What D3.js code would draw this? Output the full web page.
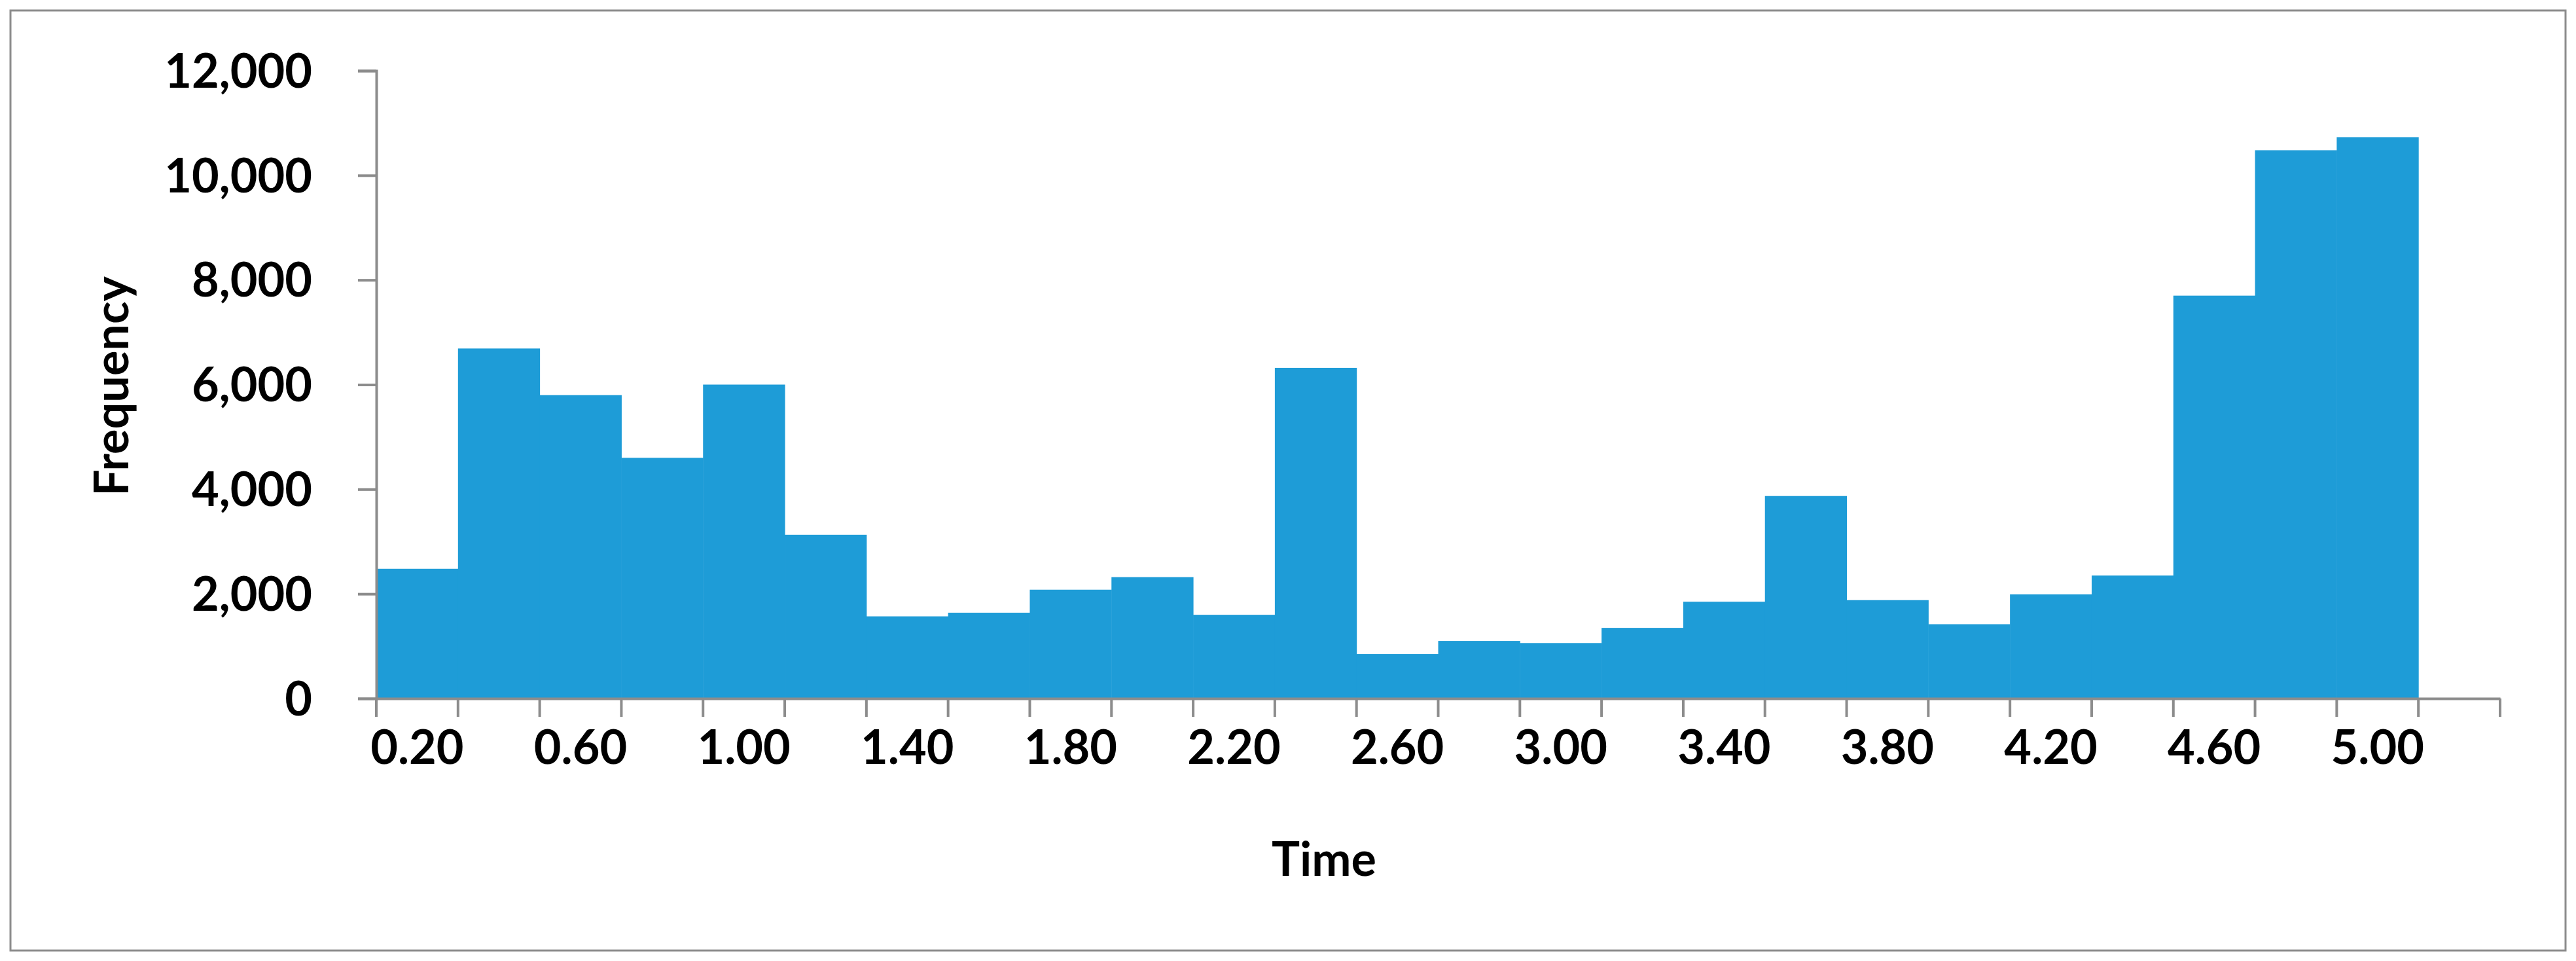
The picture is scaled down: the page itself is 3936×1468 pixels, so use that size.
<!DOCTYPE html>
<html><head><meta charset="utf-8">
<script src="https://cdn.jsdelivr.net/npm/d3@7"></script>
<style>body{margin:0;background:#fff}</style></head>
<body><svg id="c" width="3936" height="1468"></svg>
<script>
const categories = ["0.20","0.40","0.60","0.80","1.00","1.20","1.40","1.60","1.80","2.00","2.20","2.40","2.60","2.80","3.00","3.20","3.40","3.60","3.80","4.00","4.20","4.40","4.60","4.80","5.00","More"];
const frequency = [2480,6690,5800,4600,6000,3130,1570,1640,2080,2320,1600,6320,850,1100,1060,1350,1850,3870,1880,1420,1990,2350,7700,10480,10730,0];
const yTicks = [0,2000,4000,6000,8000,10000,12000];
const shownLabels = ["0.20","0.60","1.00","1.40","1.80","2.20","2.60","3.00","3.40","3.80","4.20","4.60","5.00"];

const svg = d3.select("#c");
const font = "Lato, 'Open Sans', sans-serif";
svg.append("rect").attr("x",16).attr("y",16).attr("width",3904).attr("height",1436)
  .attr("fill","#fff").attr("stroke","#8c8c8c").attr("stroke-width",3);

const L=575,R=3820,T=108,B=1067;
const x = d3.scaleBand().domain(categories).range([L,R]).padding(0);
const y = d3.scaleLinear().domain([0,12000]).range([B,T]);

svg.append("g").selectAll("rect").data(categories.map((c,i)=>({c,v:frequency[i]}))).join("rect")
  .attr("x",d=>x(d.c)).attr("width",x.bandwidth()+0.5)
  .attr("y",d=>y(d.v)).attr("height",d=>B-y(d.v)).attr("fill","#1e9cd7");

const ya = svg.append("g").attr("transform",`translate(${L},0)`)
  .call(d3.axisLeft(y).tickValues(yTicks).tickSize(28).tickPadding(70).tickFormat(d3.format(",")));
const xa = svg.append("g").attr("transform",`translate(0,${B})`)
  .call(d3.axisBottom(x).tickSize(0).tickPadding(75).tickFormat(d=>shownLabels.includes(d)?d:""));
// boundary ticks
xa.selectAll(".bt").data(d3.range(categories.length+1)).join("line").attr("class","bt")
  .attr("x1",i=>L+i*x.bandwidth()).attr("x2",i=>L+i*x.bandwidth()).attr("y1",0).attr("y2",28);
[ya,xa].forEach(a=>{
  a.selectAll("path.domain").attr("stroke","#8c8c8c").attr("stroke-width",4);
  a.selectAll("line").attr("stroke","#8c8c8c").attr("stroke-width",4);
  a.selectAll("text").attr("font-family",font).attr("font-weight","bold").attr("font-size",72).attr("fill","#000");
});
ya.selectAll("text").attr("dy","0.35em");
xa.selectAll("text").attr("dy","0.35em");

svg.append("text").attr("x",2023).attr("y",1313).attr("dy","0.35em").attr("text-anchor","middle")
  .attr("font-family",font).attr("font-weight","bold").attr("font-size",72).text("Time");
svg.append("text").attr("transform","translate(171,590) rotate(-90)").attr("dy","0.35em").attr("text-anchor","middle")
  .attr("font-family",font).attr("font-weight","bold").attr("font-size",72).text("Frequency");
</script></body></html>
